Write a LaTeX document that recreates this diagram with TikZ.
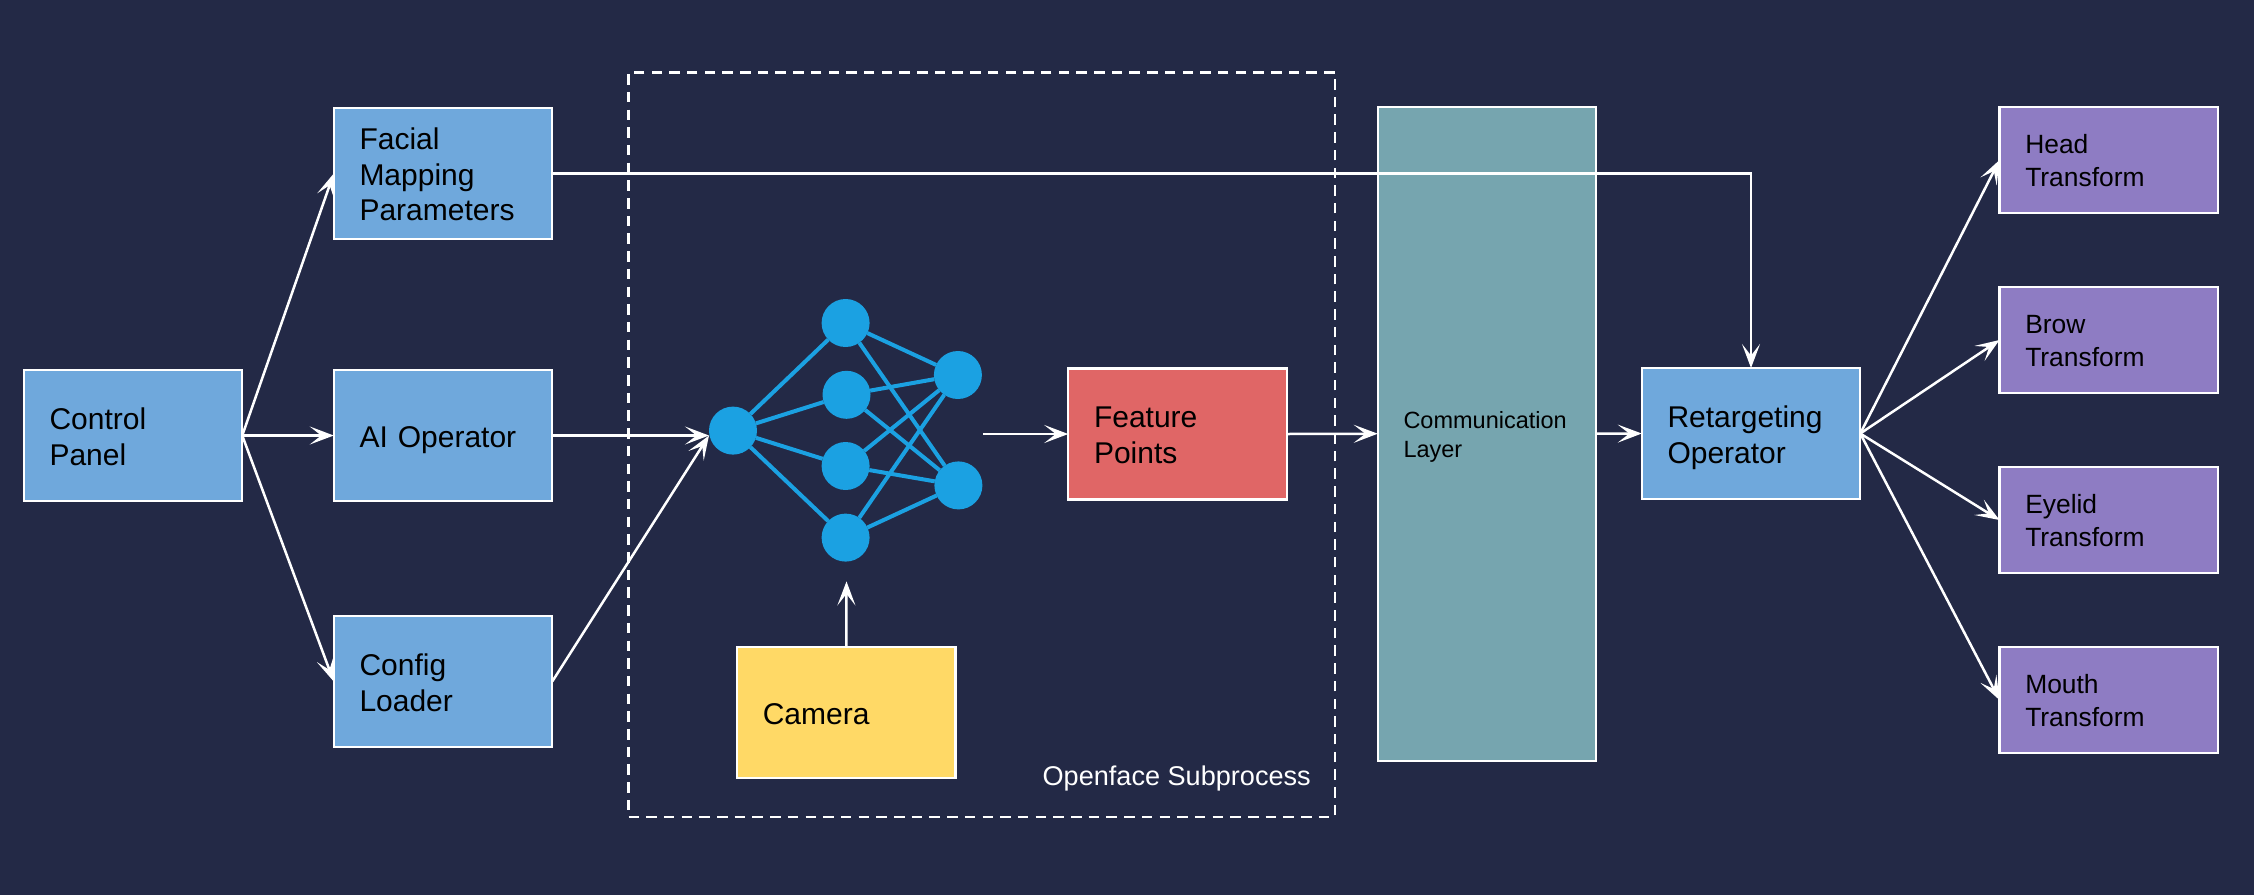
\documentclass[tikz,border=0pt]{standalone}
\usepackage{fontspec}
\setmainfont{Liberation Sans}
\usetikzlibrary{arrows.meta}
\definecolor{bgdark}{HTML}{232946}
\definecolor{boxblue}{HTML}{6FA8DC}
\definecolor{boxred}{HTML}{E06666}
\definecolor{boxyellow}{HTML}{FFD966}
\definecolor{boxpurple}{HTML}{8E7CC3}
\definecolor{boxteal}{HTML}{76A5AF}
\definecolor{netblue}{HTML}{1BA1E2}
\tikzset{
  stepbox/.style={rectangle, draw=white, line width=2.4pt, text=black, outer sep=0pt, inner xsep=25.5pt, inner ysep=0pt, align=left, text width=167pt, minimum width=218.5pt, minimum height=131pt, font=\fontsize{30}{35.6}\selectfont,
    execute at begin node={\rule{0pt}{1.08em}}, execute at end node={\rule[-.3em]{0pt}{.3em}}},
  xformbox/.style={stepbox, fill=boxpurple, minimum height=106.5pt, font=\fontsize{26.4}{33}\selectfont},
  netnode/.style={circle, fill=netblue, inner sep=0pt, outer sep=0pt, minimum size=48pt},
  netedge/.style={draw=netblue, line width=4pt},
  flow/.style={draw=white, line width=2.5pt, -{Stealth[length=24pt, width=18pt, inset=11.5pt]}},
}
\begin{document}
\begin{tikzpicture}[x=1pt, y=-1pt]
\useasboundingbox (0,0) rectangle (2254,895);
\fill[bgdark] (0,0) rectangle (2254,895);
% dashed frame
\node[rectangle, draw=white, line width=2.5pt, dash pattern=on 10.5pt off 7.2pt, minimum width=706.5pt, minimum height=744.5pt, outer sep=0pt] (subproc) at (981.75,444.5){};
\node[text=white, anchor=base east, inner sep=0pt, font=\fontsize{27.1}{32}\selectfont] (subname) at (1311,785){Openface Subprocess};
% left column
\node[stepbox, fill=boxblue] (ctl) at (133,435.5){Control\\Panel};
\node[stepbox, fill=boxblue] (fmp) at (443,173.5){Facial\\Mapping\\Parameters};
\node[stepbox, fill=boxblue] (aiop) at (443,435.5){AI Operator};
\node[stepbox, fill=boxblue] (cfg) at (443,681.5){Config\\Loader};
% network
\node[netnode] (nid0) at (733,430.6){};
\node[netnode] (nid1) at (845.6,323){};
\node[netnode] (nid2) at (846.5,394.8){};
\node[netnode] (nid3) at (845.6,466){};
\node[netnode] (nid4) at (845.6,537.6){};
\node[netnode] (nid5) at (957.9,375){};
\node[netnode] (nid6) at (958.4,485.4){};
\draw[netedge](nid0) -- (nid1);
\draw[netedge](nid0) -- (nid2);
\draw[netedge](nid0) -- (nid3);
\draw[netedge](nid0) -- (nid4);
\draw[netedge](nid1) -- (nid5);
\draw[netedge](nid1) -- (nid6);
\draw[netedge](nid2) -- (nid5);
\draw[netedge](nid2) -- (nid6);
\draw[netedge](nid3) -- (nid5);
\draw[netedge](nid3) -- (nid6);
\draw[netedge](nid4) -- (nid5);
\draw[netedge](nid4) -- (nid6);
\coordinate (netin) at (709,435.5);
\coordinate (netout) at (983.4,434);
\coordinate (camup) at (846.5,581.4);
% middle boxes
\node[stepbox, fill=boxred] (feat) at (1177.5,434){Feature\\Points};
\node[stepbox, fill=boxyellow] (cam) at (846.25,712.5){Camera};
\node[stepbox, fill=boxteal, minimum height=654pt, font=\fontsize{23.5}{28.8}\selectfont] (comm) at (1487,433.7){Communication\\Layer};
\node[stepbox, fill=boxblue] (ret) at (1751,433.5){Retargeting\\Operator};
% right column
\node[xformbox] (head) at (2108.75,160){Head\\Transform};
\node[xformbox] (brow) at (2108.75,340){Brow\\Transform};
\node[xformbox] (lid) at (2108.75,520){Eyelid\\Transform};
\node[xformbox] (mouth) at (2108.75,700){Mouth\\Transform};
% connectors
\draw[flow](ctl.east) -- (fmp.west);
\draw[flow](ctl.east) -- (aiop.west);
\draw[flow](ctl.east) -- (cfg.west);
\draw[flow](aiop.east) -- (netin);
\draw[flow](cfg.east) -- (netin);
\draw[flow](cam.north) -- (camup);
\draw[flow](netout) -- (feat.west);
\draw[flow](feat.east) -- (comm.west);
\draw[flow](comm.east) -- (ret.west);
\draw[flow](fmp.east) -| (ret.north);
\draw[flow](ret.east) -- (head.west);
\draw[flow](ret.east) -- (brow.west);
\draw[flow](ret.east) -- (lid.west);
\draw[flow](ret.east) -- (mouth.west);
\end{tikzpicture}
\end{document}
